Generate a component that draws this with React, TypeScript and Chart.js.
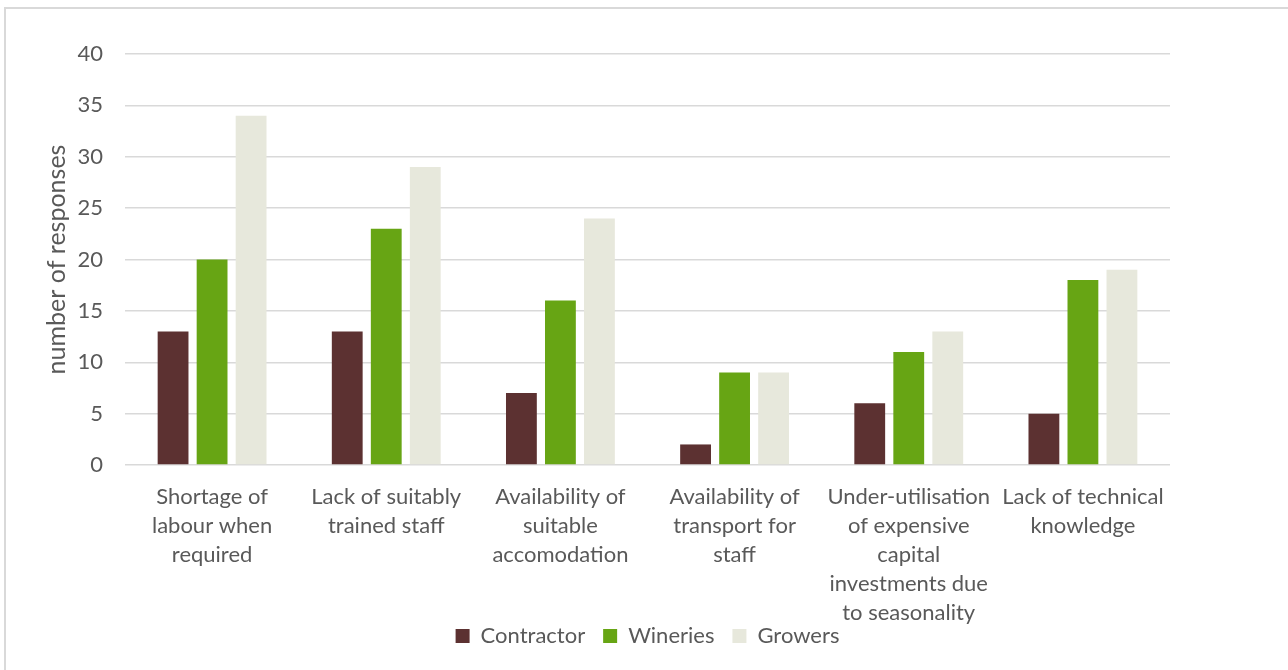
import React, { useEffect, useRef } from "react";
import { Chart, registerables } from "chart.js";

Chart.register(...registerables);

// Survey: constraints on vineyard staffing, by respondent group
const categories: string[][] = [
  ["Shortage of", "labour when", "required"],
  ["Lack of suitably", "trained staff"],
  ["Availability of", "suitable", "accomodation"],
  ["Availability of", "transport for", "staff"],
  ["Under-utilisation", "of expensive", "capital", "investments due", "to seasonality"],
  ["Lack of technical", "knowledge"],
];

const contractor = [13, 13, 7, 2, 6, 5];
const wineries = [20, 23, 16, 9, 11, 18];
const growers = [34, 29, 24, 9, 13, 19];

const yTicks = [0, 5, 10, 15, 20, 25, 30, 35, 40];

const FONT = "Lato, 'Open Sans', sans-serif";
const TEXT = "#595959";
const GRID = "#d9d9d9";

export default function App() {
  const canvasRef = useRef<HTMLCanvasElement | null>(null);

  useEffect(() => {
    const canvas = canvasRef.current;
    if (!canvas) return;
    const chart = new Chart(canvas, {
      type: "bar",
      data: {
        labels: categories,
        datasets: [
          { label: "Contractor", data: contractor, backgroundColor: "#5c3131" },
          { label: "Wineries", data: wineries, backgroundColor: "#67a514" },
          { label: "Growers", data: growers, backgroundColor: "#e7e8dc" },
        ],
      },
      options: {
        responsive: false,
        animation: false,
        layout: { padding: { left: 0, right: 118, top: 54, bottom: 13 } },
        datasets: {
          bar: { categoryPercentage: 0.672, barPercentage: 0.79 },
        },
        plugins: {
          tooltip: { enabled: false },
          legend: {
            position: "bottom",
            fullSize: false,
            labels: {
              boxWidth: 14,
              boxHeight: 14,
              padding: 18,
              color: TEXT,
              font: { family: FONT, size: 22 },
            },
          },
        },
        scales: {
          x: {
            grid: { display: false, drawTicks: false },
            border: { display: false },
            ticks: {
              color: TEXT,
              padding: 17,
              maxRotation: 0,
              autoSkip: false,
              font: { family: FONT, size: 22, lineHeight: 1.32 },
            },
            afterFit: (scale: any) => {
              scale.height = 142;
              // long category labels may run down beside the legend
              scale._computeLabelArea = () => ({
                top: scale.top,
                left: 0,
                bottom: scale.chart.height,
                right: scale.chart.width,
              });
            },
          },
          y: {
            min: 0,
            max: 40,
            afterBuildTicks: (scale: any) => {
              scale.ticks = yTicks.map((v) => ({ value: v }));
            },
            grid: { color: GRID, lineWidth: 1.5, drawTicks: false },
            border: { display: false },
            ticks: {
              color: TEXT,
              padding: 22,
              font: { family: FONT, size: 22 },
            },
            title: {
              display: true,
              text: "number of responses",
              color: TEXT,
              padding: { top: 42, bottom: 0 },
              font: { family: FONT, size: 25 },
            },
            afterFit: (scale: any) => {
              scale.width = 125;
            },
          },
        },
      },
    });
    return () => chart.destroy();
  }, []);

  return (
    <>
      <div
        style={{
          position: "absolute",
          left: 4,
          top: 7,
          width: 1284,
          height: 663,
          boxSizing: "border-box",
          borderTop: `2px solid ${GRID}`,
          borderLeft: `2px solid ${GRID}`,
          background: "#ffffff",
        }}
      />
      <canvas
        ref={canvasRef}
        width={1288}
        height={670}
        style={{ position: "absolute", left: 0, top: 0, display: "block" }}
      />
    </>
  );
}
